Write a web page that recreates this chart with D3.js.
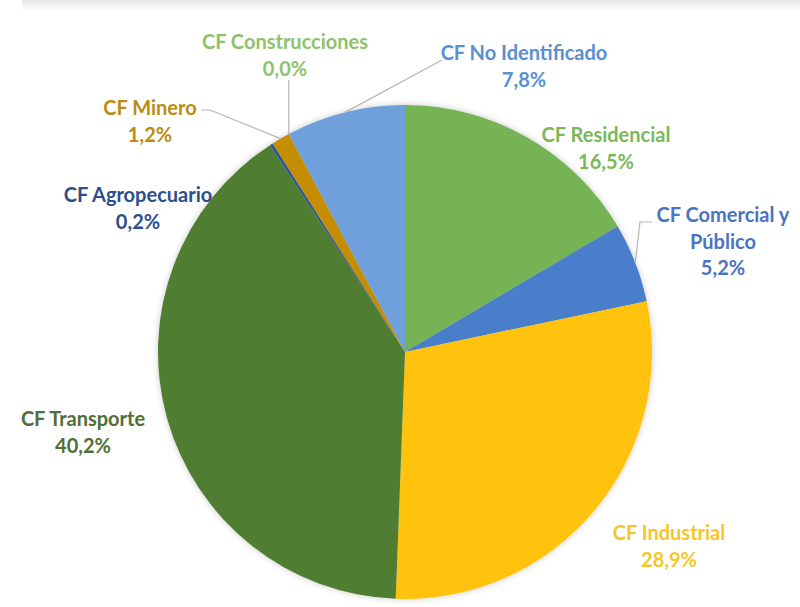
<!DOCTYPE html>
<html>
<head>
<meta charset="utf-8">
<script src="https://cdn.jsdelivr.net/npm/d3@7"></script>
<style>
  html, body { margin: 0; padding: 0; background: #fff; }
  svg { display: block; }
  text { font-family: Lato, "Open Sans", sans-serif; font-weight: 700; }
</style>
</head>
<body>
<svg id="chart" width="800" height="607"></svg>
<script>
// Final energy consumption by sector (%)
const categories = [
  "CF Residencial", "CF Comercial y Público", "CF Industrial", "CF Transporte",
  "CF Agropecuario", "CF Minero", "CF Construcciones", "CF No Identificado"
];
const values = [16.5, 5.2, 28.9, 40.2, 0.2, 1.2, 0.0, 7.8];

// Label text broken into lines
const labelLines = [
  ["CF Residencial"], ["CF Comercial y", "Público"], ["CF Industrial"], ["CF Transporte"],
  ["CF Agropecuario"], ["CF Minero"], ["CF Construcciones"], ["CF No Identificado"]
];

// Styling
const sliceColors = ["#76b354", "#4a7ecb", "#ffc20a", "#507d30", "#2f5597", "#c58e00", "#76b354", "#70a0dc"];
const textColors  = ["#7ab85a", "#4a74c2", "#f5c62a", "#4f6e38", "#2e4e8a", "#bb8c12", "#8fc26b", "#5b8fd3"];

// Label anchor (centre of first line) and optional leader-line elbow
const labelLayout = [
  { x: 606, y: 135 },
  { x: 723, y: 215, elbow: [[640, 222], [652, 222]] },
  { x: 669, y: 533 },
  { x: 83,  y: 419 },
  { x: 138, y: 195 },
  { x: 150, y: 108, elbow: [[210, 110], [201, 110]] },
  { x: 285, y: 42,  elbow: [[null, 80]] },
  { x: 524, y: 53,  elbow: [[442, 60]] }
];

const width = 800, height = 607;
const cx = 405, cy = 352, radius = 247;
const lineGap = 26.5;

const svg = d3.select("#chart");

// faint grey band along the top edge
const defs = svg.append("defs");
const grad = defs.append("linearGradient").attr("id", "topBand")
  .attr("x1", 0).attr("y1", 0).attr("x2", 0).attr("y2", 1);
grad.append("stop").attr("offset", "0%").attr("stop-color", "#e6e6e6");
grad.append("stop").attr("offset", "100%").attr("stop-color", "#ffffff");
svg.append("rect").attr("x", 22).attr("y", 0).attr("width", width - 22).attr("height", 11)
  .attr("fill", "url(#topBand)");

const shadow = defs.append("filter").attr("id", "pieShadow")
  .attr("x", "-10%").attr("y", "-10%").attr("width", "120%").attr("height", "120%");
shadow.append("feDropShadow").attr("dx", 0).attr("dy", 0).attr("stdDeviation", 3)
  .attr("flood-color", "#000").attr("flood-opacity", 0.22);

const pie = d3.pie().sort(null).value(d => d);
const arcs = pie(values);
const arc = d3.arc().innerRadius(0).outerRadius(radius);
const edge = d3.arc().innerRadius(radius).outerRadius(radius);

const g = svg.append("g").attr("transform", `translate(${cx},${cy})`);

g.append("g").attr("filter", "url(#pieShadow)")
  .selectAll("path").data(arcs).join("path")
  .attr("d", arc)
  .attr("fill", (d, i) => sliceColors[i]);

// leader lines
const fmt = v => d3.format(".1f")(v).replace(".", ",") + "%";
arcs.forEach((d, i) => {
  const lay = labelLayout[i];
  if (!lay.elbow) return;
  const [ex, ey] = edge.centroid(d);
  const pts = [[cx + ex, cy + ey]];
  lay.elbow.forEach(p => pts.push([p[0] === null ? cx + ex : p[0], p[1]]));
  svg.append("path")
    .attr("d", d3.line()(pts))
    .attr("fill", "none")
    .attr("stroke", "#b5b5b5")
    .attr("stroke-width", 1.2);
});

// labels
arcs.forEach((d, i) => {
  const lay = labelLayout[i];
  const lines = labelLines[i].concat([fmt(values[i])]);
  const t = svg.append("text")
    .attr("text-anchor", "middle")
    .attr("fill", textColors[i])
    .attr("font-size", 20);
  lines.forEach((s, k) => {
    t.append("tspan").attr("x", lay.x).attr("y", lay.y + k * lineGap).attr("dy", "0.35em").text(s);
  });
});
</script>
</body>
</html>
